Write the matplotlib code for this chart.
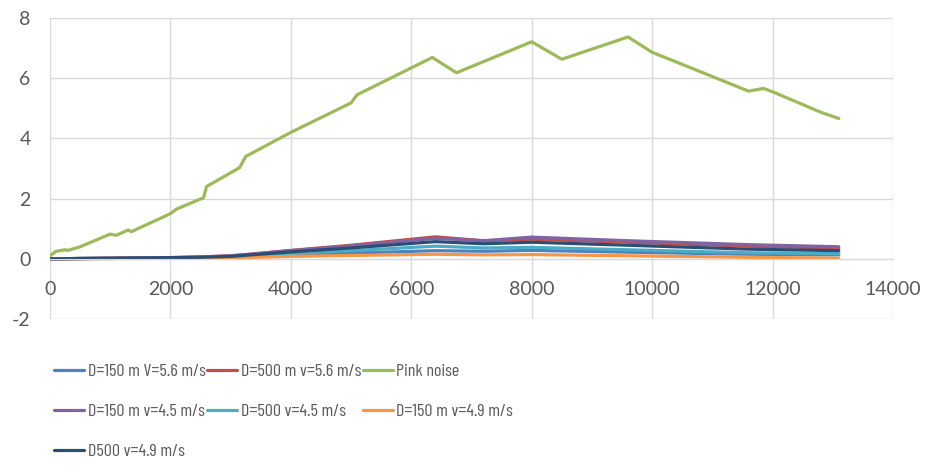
import matplotlib.pyplot as plt
from matplotlib import font_manager

# pink noise trace
x_pink = [0, 100, 250, 300, 500, 1000, 1100, 1300, 1350, 2000, 2100, 2550, 2600,
          3150, 3250, 4000, 5000, 5100, 6350, 6750, 8000, 8500, 9600, 10000,
          10400, 11600, 11850, 12000, 12800, 13100]
y_pink = [0.1, 0.25, 0.3, 0.28, 0.4, 0.82, 0.78, 0.96, 0.9, 1.5, 1.65, 2.03, 2.4,
          3.03, 3.4, 4.2, 5.18, 5.45, 6.69, 6.18, 7.21, 6.63, 7.37, 6.86,
          6.54, 5.57, 5.66, 5.55, 4.87, 4.66]

# measured runs share one x grid
x_runs = [0, 500, 1000, 1500, 2000, 2500, 3000, 3200, 4000, 5000, 6400, 7200,
          8000, 9600, 11600, 13100]
y_150_56 = [0, 0.01, 0.01, 0.02, 0.03, 0.04, 0.05, 0.06, 0.12, 0.19, 0.27, 0.25,
            0.28, 0.22, 0.15, 0.13]
y_500_56 = [0, 0.01, 0.02, 0.03, 0.04, 0.06, 0.1, 0.13, 0.28, 0.45, 0.73, 0.6,
            0.65, 0.55, 0.42, 0.35]
y_150_45 = [0, 0.01, 0.02, 0.03, 0.04, 0.06, 0.1, 0.13, 0.27, 0.43, 0.68, 0.6,
            0.72, 0.6, 0.47, 0.4]
y_500_45 = [0, 0.01, 0.01, 0.02, 0.03, 0.04, 0.06, 0.08, 0.17, 0.27, 0.42, 0.36,
            0.38, 0.3, 0.2, 0.17]
y_150_49 = [0, 0, 0.01, 0.01, 0.02, 0.02, 0.03, 0.04, 0.08, 0.11, 0.15, 0.13,
            0.14, 0.1, 0.05, 0.02]
y_500_49 = [0, 0.01, 0.02, 0.03, 0.04, 0.05, 0.08, 0.11, 0.23, 0.36, 0.57, 0.5,
            0.55, 0.45, 0.32, 0.27]

names = ['D=150 m V=5.6 m/s', 'D=500 m v=5.6 m/s', 'Pink noise',
         'D=150 m v=4.5 m/s', 'D=500 v=4.5 m/s', 'D=150 m v=4.9 m/s',
         'D500 v=4.9 m/s']
colors = ['#4F81BD', '#C0504D', '#9BBB59', '#8064A2', '#4BACC6', '#F79646', '#2C4D75']

plt.rcParams['font.family'] = ['Lato', 'DejaVu Sans']
plt.rcParams['axes.unicode_minus'] = False

installed = {f.name for f in font_manager.fontManager.ttflist}
narrow = 'Lato'
for cand in ['Barlow Condensed', 'Asap Condensed', 'Archivo Narrow']:
    if cand in installed:
        narrow = cand
        break

fig = plt.figure(figsize=(9.27, 4.72), dpi=100)
ax = fig.add_axes([50 / 927, 1 - 319 / 472, 843 / 927, 301 / 472])

series = [(x_runs, y_150_56), (x_runs, y_500_56), (x_pink, y_pink),
          (x_runs, y_150_45), (x_runs, y_500_45), (x_runs, y_150_49),
          (x_runs, y_500_49)]
handles = []
for (xs, ys), name, c in zip(series, names, colors):
    h, = ax.plot(xs, ys, color=c, lw=2.3, label=name, solid_capstyle='round')
    handles.append(h)

ax.set_xlim(0, 14000)
ax.set_ylim(-2, 8)
ax.set_xticks(range(0, 14001, 2000))
ax.set_yticks(range(-2, 9, 2))
ax.grid(True, color='#D9D9D9', lw=1)
ax.set_axisbelow(True)
for s in ['top', 'right', 'left']:
    ax.spines[s].set_visible(False)
ax.spines['bottom'].set_position(('data', 0))
ax.spines['bottom'].set_color('#D9D9D9')
ax.tick_params(length=0, labelsize=14, colors='#595959')
ax.tick_params(axis='x', pad=16)
ax.tick_params(axis='y', pad=14)

# row-major legend like the original
order = [0, 3, 6, 1, 4, 2, 5]
leg = fig.legend([handles[i] for i in order], [names[i] for i in order],
                 loc='upper left', bbox_to_anchor=(47 / 927, 1 - 356 / 472),
                 ncol=3, frameon=False, prop={'family': narrow, 'size': 13},
                 handlelength=1.65, handletextpad=0.2, columnspacing=0.1,
                 labelspacing=1.35, labelcolor='#595959', borderaxespad=0)

fig.savefig('out.png', dpi=100)
